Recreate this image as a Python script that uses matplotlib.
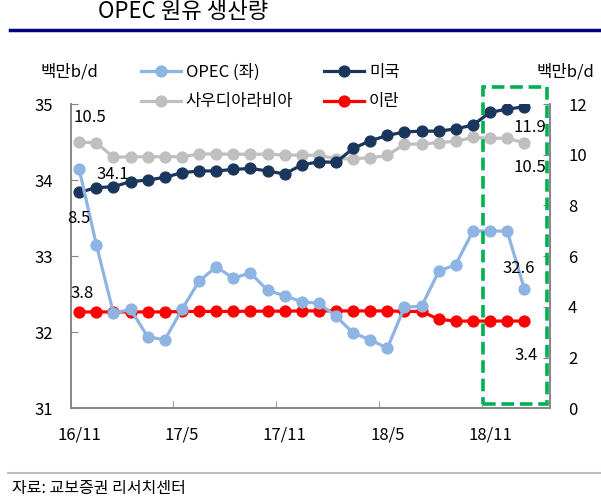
import numpy as np
import matplotlib
matplotlib.use("Agg")
import matplotlib.pyplot as plt
from matplotlib.patches import Rectangle
from matplotlib.lines import Line2D
from matplotlib.ticker import FixedLocator
import matplotlib.transforms as mtransforms

plt.rcParams['font.family'] = ['Noto Sans CJK KR', 'DejaVu Sans']

# monthly data, 16/11 .. 19/1 (one empty slot after the last month)
n_slots = 28
tick_labels = ['16/11', '17/5', '17/11', '18/5', '18/11']
opec = [34.14, 33.15, 32.25, 32.30, 31.94, 31.90, 32.30, 32.67, 32.86, 32.71,
        32.78, 32.55, 32.48, 32.40, 32.38, 32.21, 31.99, 31.90, 31.79, 32.33,
        32.34, 32.80, 32.89, 33.33, 33.33, 33.33, 32.57]
usa = [8.52, 8.70, 8.74, 8.94, 9.00, 9.11, 9.29, 9.36, 9.36, 9.42,
       9.46, 9.36, 9.24, 9.60, 9.72, 9.70, 10.25, 10.55, 10.76, 10.90,
       10.93, 10.93, 11.02, 11.17, 11.67, 11.80, 11.89]
saudi = [10.50, 10.47, 9.90, 9.92, 9.92, 9.92, 9.92, 10.03, 10.03, 10.02,
         10.02, 10.02, 9.99, 9.98, 9.98, 9.84, 9.84, 9.88, 9.97, 10.42,
         10.42, 10.48, 10.53, 10.68, 10.65, 10.65, 10.47]
iran = [3.80, 3.80, 3.80, 3.80, 3.80, 3.80, 3.82, 3.82, 3.82, 3.82,
        3.83, 3.83, 3.83, 3.84, 3.84, 3.84, 3.84, 3.84, 3.84, 3.82,
        3.82, 3.51, 3.44, 3.44, 3.44, 3.44, 3.44]

c_opec = '#8EB4E3'
c_usa = '#1B365D'
c_saudi = '#BFBFBF'
c_iran = '#FF0000'
axis_gray = '#868686'
fs = 12

fig = plt.figure(figsize=(6.01, 5.03), dpi=100)
ax = fig.add_axes([0.1176, 0.1883, 0.7975, 0.6049])
ax2 = ax.twinx()

x = np.arange(len(opec))
mk = dict(marker='o', markersize=7.8, linewidth=2.3)
ax.plot(x, opec, color=c_opec, zorder=3, **mk)
ax2.plot(x, saudi, color=c_saudi, zorder=2, **mk)
ax2.plot(x, usa, color=c_usa, zorder=3, **mk)
ax2.plot(x, iran, color=c_iran, zorder=4, **mk)

ax.set_xlim(-0.5, n_slots - 0.5)
ax.set_ylim(31, 35)
ax2.set_ylim(0, 12)
ax.set_yticks(np.arange(31, 36, 1))
ax2.set_yticks(np.arange(0, 13, 2))

ax.set_xticks(np.arange(0, 30, 6)[:len(tick_labels)])
ax.set_xticklabels(tick_labels)
ax.xaxis.set_minor_locator(FixedLocator(np.arange(5.5, n_slots - 1, 6)))
ax.tick_params(axis='x', which='major', length=0, pad=13, labelsize=fs)
ax.tick_params(axis='x', which='minor', direction='in', length=5, color=axis_gray)
ax.tick_params(axis='y', direction='in', length=5, color=axis_gray, pad=13, labelsize=fs)
ax2.tick_params(axis='y', direction='in', length=5, color=axis_gray, pad=13, labelsize=fs)

for a in (ax, ax2):
    a.spines['top'].set_visible(False)
    for s in ('left', 'right', 'bottom'):
        a.spines[s].set_color(axis_gray)
        a.spines[s].set_linewidth(1.2)
ax.set_zorder(ax2.get_zorder() + 1)
ax.patch.set_visible(False)


def label(series, i, dx, dy, right_axis=False):
    src = ax2.transData if right_axis else ax.transData
    ax.annotate(f'{series[i]:.1f}', (x[i], series[i]), xycoords=src, xytext=(dx, dy),
                textcoords='offset points', fontsize=fs, va='center', ha='center', zorder=20)


label(opec, 0, 24, -4)
label(opec, -1, -4, 15)
label(saudi, 0, 8, 18, True)
label(saudi, -1, 4, -18, True)
label(usa, 0, 0, -19, True)
label(usa, -1, 4, -15, True)
label(iran, 0, 2, 13, True)
label(iran, -1, 1, -25, True)

# green dashed highlight box over the last months
trans = mtransforms.blended_transform_factory(ax.transData, fig.transFigure)
box = Rectangle((23.58, 1 - 404 / 503), 27.31 - 23.58, (404 - 87) / 503, transform=trans,
                fill=False, edgecolor='#00B050', linewidth=2.6, linestyle=(0, (3.5, 1.6)),
                clip_on=False, zorder=10)
ax.add_patch(box)

# axis unit labels
fig.text(40 / 601, 1 - 72 / 503, '백만b/d', fontsize=fs, ha='left', va='center')
fig.text(537 / 601, 1 - 72 / 503, '백만b/d', fontsize=fs, ha='left', va='center')

# legend
handles = [Line2D([], [], color=c_opec, **mk),
           Line2D([], [], color=c_saudi, **mk),
           Line2D([], [], color=c_usa, **mk),
           Line2D([], [], color=c_iran, **mk)]
labels = ['OPEC (좌)', '사우디아라비아', '미국', '이란']
fig.legend(handles, labels, ncol=2, loc='center left', bbox_to_anchor=(134 / 601, 1 - 87 / 503),
           frameon=False, fontsize=fs, handlelength=2.4, handletextpad=0.3,
           columnspacing=1.85, labelspacing=0.75, borderaxespad=0)

# title and frame lines
fig.text(98 / 601, 1 - 11 / 503, 'OPEC 원유 생산량', fontsize=16, ha='left', va='center')
fig.add_artist(Line2D([10 / 601, 1], [1 - 30 / 503, 1 - 30 / 503], color='#000080', linewidth=2.5))
fig.add_artist(Line2D([8 / 601, 1], [1 - 473 / 503, 1 - 473 / 503], color='#BFBFBF', linewidth=1.5))
fig.text(12 / 601, 1 - 489 / 503, '자료: 교보증권 리서치센터', fontsize=11.5, ha='left', va='center')

fig.savefig('out.png', dpi=100)
